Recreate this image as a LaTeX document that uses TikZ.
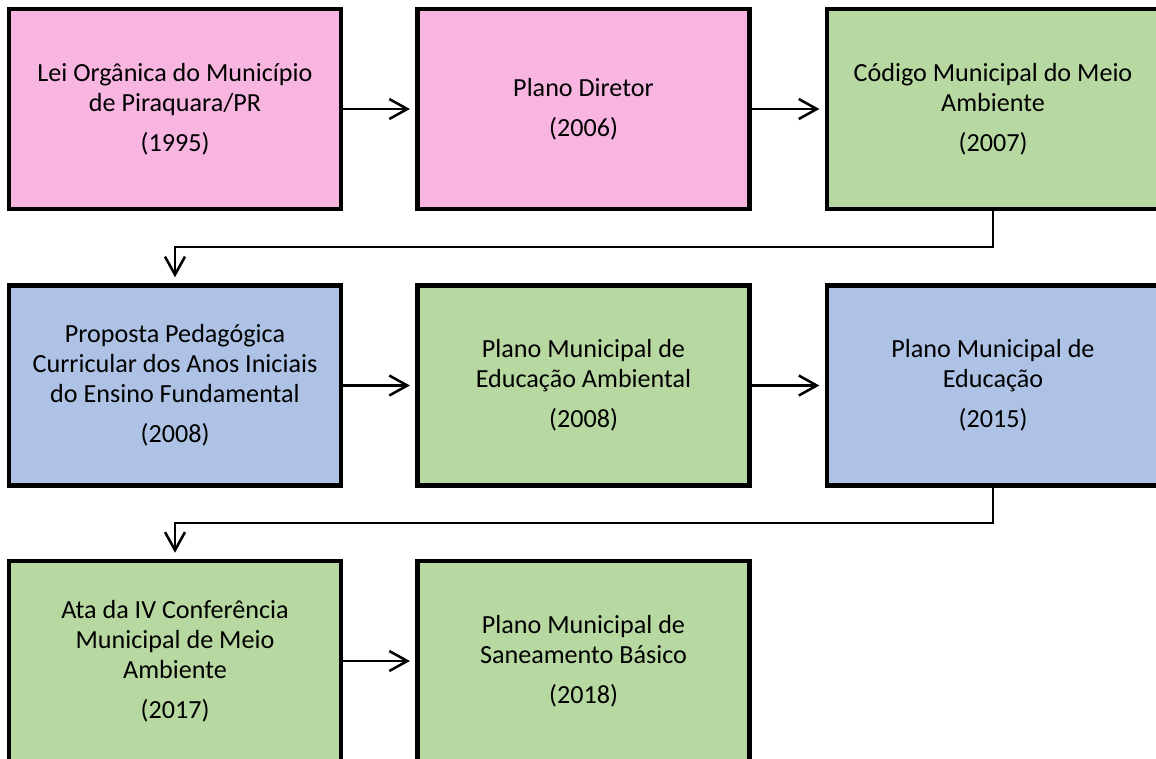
\documentclass[tikz,border=0pt]{standalone}
\usepackage{fontspec}
\setmainfont{Carlito}
\usetikzlibrary{arrows.meta}

\definecolor{lawpink}{RGB}{247,181,224}
\definecolor{envgreen}{RGB}{184,216,162}
\definecolor{edublue}{RGB}{173,194,228}

\tikzset{
  docbox/.style={draw=black, line width=3.4pt, rectangle, inner sep=0pt,
    minimum width=249pt, minimum height=150pt, align=center,
    font=\fontsize{19.6}{22.5}\selectfont},
  pinkbox/.style={docbox, fill=lawpink},
  greenbox/.style={docbox, fill=envgreen},
  bluebox/.style={docbox, fill=edublue},
  flow/.style={draw=black, line width=1.9pt,
    -{Straight Barb[length=13.5pt,width=15pt,line width=1.9pt]}},
}

\newcommand{\yr}[1]{\\[7.5pt]#1}

\begin{document}
\begin{tikzpicture}[x=0.75pt,y=-0.75pt]
  \useasboundingbox (0,0) rectangle (1156,758);
  \fill[white] (0,0) rectangle (1156,758);
  \clip (0,0) rectangle (1156,758);

  % first row
  \node[pinkbox]  (lei)    at (175,109)   {Lei Orgânica do Município\\de Piraquara/PR\yr{(1995)}};
  \node[pinkbox]  (diretor) at (583.5,109) {Plano Diretor\yr{(2006)}};
  \node[greenbox] (codigo) at (993,109)   {Código Municipal do Meio\\Ambiente\yr{(2007)}};

  % second row
  \node[bluebox]  (proposta) at (175,385.5)   {Proposta Pedagógica\\Curricular dos Anos Iniciais\\do Ensino Fundamental\yr{(2008)}};
  \node[greenbox] (pmea)     at (583.5,385.5) {Plano Municipal de\\Educação Ambiental\yr{(2008)}};
  \node[bluebox]  (pme)      at (993,385.5)   {Plano Municipal de\\Educação\yr{(2015)}};

  % third row
  \node[greenbox] (ata)  at (175,661)   {Ata da IV Conferência\\Municipal de Meio\\Ambiente\yr{(2017)}};
  \node[greenbox] (pmsb) at (583.5,661) {Plano Municipal de\\Saneamento Básico\yr{(2018)}};

  % bends of the row-to-row connectors
  \coordinate (turnA) at (175,247);
  \coordinate (turnB) at (175,523);

  % connectors
  \draw[flow] (lei.east) -- ([xshift=-4pt]diretor.west);
  \draw[flow] (diretor.east) -- ([xshift=-4pt]codigo.west);
  \draw[flow] (codigo.south) |- (turnA) -- ([yshift=4.5pt]proposta.north);
  \draw[flow] (proposta.east) -- ([xshift=-4pt]pmea.west);
  \draw[flow] (pmea.east) -- ([xshift=-4pt]pme.west);
  \draw[flow] (pme.south) |- (turnB) -- ([yshift=4.5pt]ata.north);
  \draw[flow] (ata.east) -- ([xshift=-4pt]pmsb.west);
\end{tikzpicture}
\end{document}
